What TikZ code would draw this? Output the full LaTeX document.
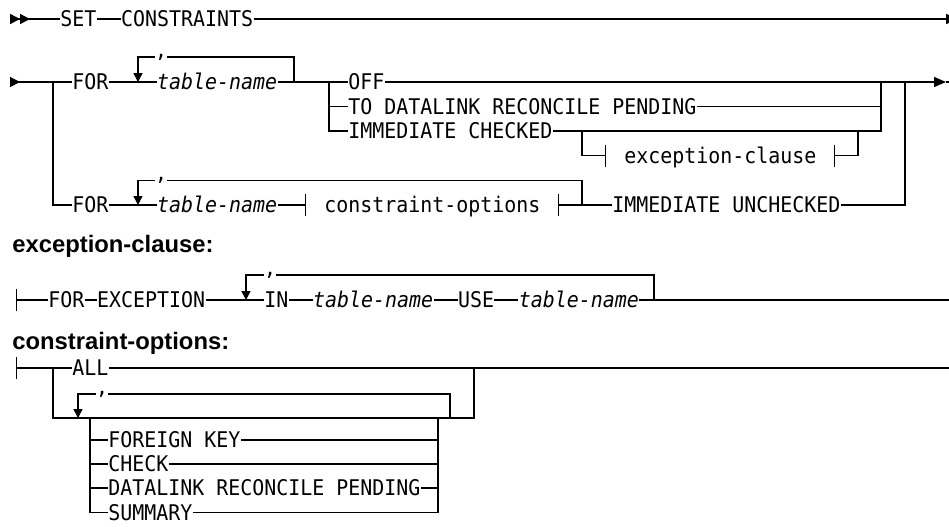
\documentclass[tikz,border=0pt]{standalone}
\usepackage{fontspec}
\usepackage{tikz}
\usetikzlibrary{
  arrows.meta,
  positioning
}
\newfontfamily\railfont{DejaVu Sans Mono}[FakeStretch=0.923]
\newfontfamily\headfont{Liberation Sans}
\tikzset{
  kw/.style={
    font=\railfont\fontsize{10.8}{13}\selectfont,
    anchor=west,
    inner xsep=0pt,
    inner ysep=0pt,
    text height=7.87pt,
    text depth=0pt
  },
  var/.style={kw,font=\railfont\fontsize{10.8}{13}\selectfont\itshape},
  punct/.style={font=\railfont\fontsize{10.8}{13}\selectfont,inner sep=0pt,minimum width=6pt},
  heading/.style={font=\headfont\bfseries\fontsize{11.9}{14}\selectfont,anchor=base west,inner sep=0pt},
  rail/.style={line width=0.7pt},
  looparrow/.style={rail,-{Triangle[length=4.5pt,width=4.5pt]}},
  startmark/.style={rail,{Triangle[reversed,length=5pt,width=5pt,sep=0pt]Triangle[reversed,length=5pt,width=5pt,sep=0pt]}-},
  contmark/.style={rail,{Triangle[reversed,length=5pt,width=5pt]}-},
  endmark/.style={rail,-{Triangle[length=6pt,width=5pt]}},
  fragin/.style={rail,-{Bar[width=11pt]}},
  fragout/.style={rail,{Bar[width=11pt]}-}
}

\begin{document}
\begin{tikzpicture}[x=0.5pt,y=-0.5pt]
  \useasboundingbox (0,0) rectangle (949,526);
  % Statement head: one character cell is 12 units (6pt).
  \coordinate (in1) at (10,19);
  \node[kw] (set) at (60,19) {SET};
  \node[kw, right=12pt of set] (cons) {CONSTRAINTS};
  \coordinate (out1) at (958,19);
  \draw[startmark] (in1) -- (set);
  \draw[rail] (set) -- (cons);
  \draw[endmark] (cons) -- (out1);

  % Upper FOR branch with its three choices.
  \coordinate (in2) at (10,82);
  \coordinate (b1) at (53,82);
  \node[kw] (for1) at (72,82) {FOR};
  \node[var, right=24pt of for1] (tab1) {table-name};
  \node[punct] (com1) at (161,57) {,};
  \coordinate (a1) at (138,82);
  \coordinate (r1) at (294,82);
  \coordinate (b2) at (329,82);
  \node[kw] (off) at (348,82) {OFF};
  \node[kw] (todl) at (348,106.5) {TO DATALINK RECONCILE PENDING};
  \node[kw] (immc) at (348,131) {IMMEDIATE CHECKED};
  \coordinate (b3) at (582,131);
  \coordinate (t1) at (606,155.5);
  \node[kw] (exc) at (624,155.5) {exception-clause};
  \coordinate (t2) at (834,155.5);
  \coordinate (m3) at (858,131);
  \coordinate (m1) at (881,82);
  \coordinate (m2) at (905,82);
  \coordinate (out2) at (946,82);

  \draw[contmark] (in2) -- (for1);
  \draw[rail] (for1) -- (tab1);
  \draw[rail] (r1) |- (com1);
  \draw[looparrow] (com1) -| (a1);
  \draw[rail] (tab1) -- (off);
  \draw[rail] (b2) |- (todl);
  \draw[rail] (b2) |- (immc);
  \draw[endmark] (off) -- (out2);
  \draw[rail] (out2) -- ++(4,0);
  \draw[rail] (todl) -| (m1);
  \draw[rail] (immc) -| (m1);
  \draw[fragin] (b3) |- (t1);
  \draw[fragout] (t2) -| (m3);

  % Lower FOR branch.
  \node[kw] (for2) at (72,205) {FOR};
  \node[var, right=24pt of for2] (tab2) {table-name};
  \node[punct] (com2) at (161,180.5) {,};
  \coordinate (a2) at (138,205);
  \coordinate (t3) at (306,205);
  \node[kw] (copt) at (324,205) {constraint-options};
  \coordinate (t4) at (558,205);
  \coordinate (r2) at (582,205);
  \node[kw] (immu) at (612,205) {IMMEDIATE UNCHECKED};

  \draw[rail] (b1) |- (for2);
  \draw[rail] (for2) -- (tab2);
  \draw[rail] (r2) |- (com2);
  \draw[looparrow] (com2) -| (a2);
  \draw[fragin] (tab2) -- (t3);
  \draw[fragout] (t4) -- (immu);
  \draw[rail] (immu) -| (m2);

  % exception-clause fragment
  \node[heading] (hexc) at (12,252) {exception-clause:};
  \coordinate (t5) at (16,300);
  \node[kw] (efor) at (48,300) {FOR};
  \node[kw, right=6pt of efor] (eexc) {EXCEPTION};
  \coordinate (a4) at (246,300);
  \node[punct] (com4) at (270,275) {,};
  \node[kw] (ein) at (264,300) {IN};
  \node[var, right=12pt of ein] (tab3) {table-name};
  \node[kw, right=12pt of tab3] (use) {USE};
  \node[var, right=12pt of use] (tab4) {table-name};
  \coordinate (r4) at (654,300);
  \coordinate (out4) at (949,300);

  \draw[fragout] (t5) -- (efor);
  \draw[rail] (efor) -- (eexc) -- (ein) -- (tab3) -- (use) -- (tab4) -- (out4);
  \draw[rail] (r4) |- (com4);
  \draw[looparrow] (com4) -| (a4);

  % constraint-options fragment
  \node[heading] (hcon) at (12,349) {constraint-options:};
  \coordinate (t6) at (16,368);
  \coordinate (b4) at (53,368);
  \node[kw] (all) at (72,368) {ALL};
  \coordinate (j5) at (474,368);
  \coordinate (k5) at (474,418);
  \coordinate (out5) at (949,368);

  \draw[fragout] (t6) -- (all);
  \draw[rail] (all) -- (out5);
  \draw[rail] (b4) |- (k5) -- (j5);

  \node[punct] (com3) at (102,394) {,};
  \coordinate (a3) at (78,418);
  \coordinate (r3) at (450,418);
  \draw[rail] (r3) |- (com3);
  \draw[looparrow] (com3) -| (a3);

  \coordinate (s0) at (90,418);
  \coordinate (s1) at (438,418);
  \node[kw] (fk) at (108,440) {FOREIGN KEY};
  \node[kw] (chk) at (108,464) {CHECK};
  \node[kw] (dlrp) at (108,488) {DATALINK RECONCILE PENDING};
  \node[kw] (summ) at (108,512.5) {SUMMARY};
  \draw[rail] (s0) |- (fk) -| (s1);
  \draw[rail] (s0) |- (chk) -| (s1);
  \draw[rail] (s0) |- (dlrp) -| (s1);
  \draw[rail] (s0) |- (summ) -| (s1);
\end{tikzpicture}
\end{document}
